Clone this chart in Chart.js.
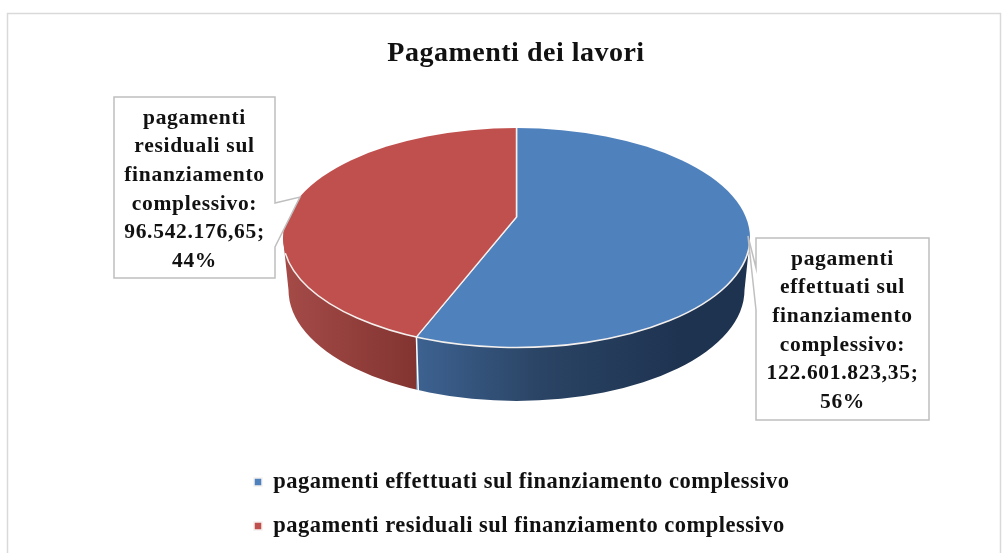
<!DOCTYPE html>
<html>
<head>
<meta charset="utf-8">
<style>html,body{margin:0;padding:0;background:#fff}canvas{display:block}</style>
<script src="https://cdn.jsdelivr.net/npm/chart.js@4"></script>
</head>
<body>
<canvas id="c" width="1007" height="553"></canvas>
<script>
const chartTitle = 'Pagamenti dei lavori';
const categories = ['pagamenti effettuati sul finanziamento complessivo', 'pagamenti residuali sul finanziamento complessivo'];
const values = [122601823.35, 96542176.65];
const percents = ['56%', '44%'];
const valueLabels = ['122.601.823,35;', '96.542.176,65;'];
const calloutText = [
  ['pagamenti', 'effettuati sul', 'finanziamento', 'complessivo:'],
  ['pagamenti', 'residuali sul', 'finanziamento', 'complessivo:']
];
const topColors = ['#4f81bd', '#c0504d'];

const SERIF = '"Liberation Serif", serif';
const top3d = {cx: 516.5, cy: 237.8, rx: 233.5, ry: 109.7, ax: 516.5, ay: 217};
const bot3d = {cx: 516.5, cy: 290, rx: 228, ry: 111};
const boxes = [
  {x: 756, y: 238, w: 173, h: 182, tip: [748, 236], a: [756, 268], b: [756, 310], side: 'left'},
  {x: 114, y: 97, w: 161, h: 181, tip: [300, 197], a: [275, 203], b: [275, 247], side: 'right'}
];

function seamX(el) {
  // where the ray between the two slices meets the rim of the top face
  const s = top3d.ry / top3d.rx, dx = Math.cos(el.endAngle), dy = Math.sin(el.endAngle) * s;
  const A = dx*dx/(top3d.rx*top3d.rx) + dy*dy/(top3d.ry*top3d.ry);
  const oy = top3d.ay - top3d.cy;
  const B = 2*dy*oy/(top3d.ry*top3d.ry);
  const C = oy*oy/(top3d.ry*top3d.ry) - 1;
  const t = (-B + Math.sqrt(B*B - 4*A*C)) / (2*A);
  return {x: top3d.ax + dx*t, y: top3d.ay + dy*t};
}

function sidePath(ctx) {
  ctx.beginPath();
  ctx.moveTo(top3d.cx - top3d.rx, top3d.cy);
  ctx.lineTo(bot3d.cx - bot3d.rx, bot3d.cy);
  ctx.ellipse(bot3d.cx, bot3d.cy, bot3d.rx, bot3d.ry, 0, Math.PI, 0, true);
  ctx.lineTo(top3d.cx + top3d.rx, top3d.cy);
  ctx.closePath();
}

const pie3d = {
  id: 'pie3d',
  beforeDraw(chart) {
    const ctx = chart.ctx;
    ctx.letterSpacing = '0.5px';
    ctx.save();
    ctx.strokeStyle = '#d9d9d9';
    ctx.lineWidth = 1.5;
    ctx.beginPath();
    ctx.moveTo(7.5, 553); ctx.lineTo(7.5, 13.5); ctx.lineTo(1000.5, 13.5); ctx.lineTo(1000.5, 553);
    ctx.stroke();
    ctx.restore();
  },
  afterLayout(chart) {
    const lg = chart.legend;
    lg.left = 232.5; lg.right = 900; lg.top = 449.25; lg.bottom = 620;
    const t = chart.titleBlock;
    t.left += 12.5; t.right += 12.5;
  },
  beforeDatasetsDraw(chart) {
    const ctx = chart.ctx, arcs = chart.getDatasetMeta(0).data;
    const seam = seamX(arcs[0]);
    const blue = ctx.createLinearGradient(seam.x, 0, 680, 0);
    blue.addColorStop(0, '#3d6291'); blue.addColorStop(0.45, '#2b4566'); blue.addColorStop(1, '#1e3350');
    const red = ctx.createLinearGradient(top3d.cx - top3d.rx, 0, seam.x, 0);
    red.addColorStop(0, '#a54b48'); red.addColorStop(1, '#823431');

    ctx.save();
    sidePath(ctx);
    ctx.clip();
    ctx.fillStyle = red;  ctx.fillRect(0, 0, seam.x, 553);
    ctx.fillStyle = blue; ctx.fillRect(seam.x, 0, 1007 - seam.x, 553);
    ctx.strokeStyle = '#fff'; ctx.lineWidth = 1.5;
    ctx.beginPath(); ctx.moveTo(seam.x, seam.y); ctx.lineTo(seam.x + 2, seam.y + 60); ctx.stroke();
    ctx.restore();

    // top face: the library's arcs, flattened about the apex and trimmed to the rim
    ctx.save();
    ctx.beginPath();
    ctx.ellipse(top3d.cx, top3d.cy, top3d.rx, top3d.ry, 0, 0, Math.PI * 2);
    ctx.clip();
    const el = arcs[0];
    ctx.translate(top3d.ax, top3d.ay);
    ctx.scale(1, top3d.ry / top3d.rx);
    ctx.translate(-el.x, -el.y);
  },
  afterDatasetsDraw(chart) {
    const ctx = chart.ctx;
    ctx.restore();
    ctx.save();
    ctx.strokeStyle = '#f4f0ee'; ctx.lineWidth = 1.6;
    ctx.beginPath();
    ctx.ellipse(top3d.cx, top3d.cy, top3d.rx, top3d.ry, 0, 0.07, Math.PI - 0.14);
    ctx.stroke();

    boxes.forEach((b, i) => {
      ctx.beginPath();
      ctx.moveTo(b.x, b.y);
      ctx.lineTo(b.x + b.w, b.y);
      if (b.side === 'right') { ctx.lineTo(...b.a); ctx.lineTo(...b.tip); ctx.lineTo(...b.b); }
      ctx.lineTo(b.x + b.w, b.y + b.h);
      ctx.lineTo(b.x, b.y + b.h);
      if (b.side === 'left') { ctx.lineTo(...b.b); ctx.lineTo(...b.tip); ctx.lineTo(...b.a); }
      ctx.closePath();
      ctx.fillStyle = '#fff'; ctx.fill();
      ctx.strokeStyle = '#bfbfbf'; ctx.lineWidth = 1.5; ctx.stroke();

      const lines = calloutText[i].concat([valueLabels[i], percents[i]]);
      ctx.fillStyle = '#111';
      ctx.font = 'bold 21.5px ' + SERIF;
      ctx.letterSpacing = '0.7px';
      ctx.textAlign = 'center';
      ctx.textBaseline = 'middle';
      lines.forEach((l, k) => ctx.fillText(l, b.x + b.w / 2, b.y + 21 + k * 28.7));
      ctx.letterSpacing = '0.5px';
    });
    ctx.restore();
  }
};

new Chart(document.getElementById('c'), {
  type: 'pie',
  data: {
    labels: categories,
    datasets: [{
      data: values,
      backgroundColor: topColors,
      borderColor: '#f4f0ee',
      borderWidth: 1.5,
      radius: 300,
      clip: false
    }]
  },
  options: {
    responsive: false,
    animation: false,
    plugins: {
      tooltip: {enabled: false},
      title: {
        display: true,
        text: chartTitle,
        color: '#111',
        font: {family: SERIF, size: 28, weight: 'bold'},
        padding: {top: 37, bottom: 10}
      },
      legend: {
        position: 'left',
        align: 'start',
        labels: {
          boxWidth: 8,
          boxHeight: 8,
          padding: 21.5,
          color: '#111',
          font: {family: SERIF, size: 22.5, weight: 'bold'}
        }
      }
    }
  },
  plugins: [pie3d]
});
</script>
</body>
</html>
